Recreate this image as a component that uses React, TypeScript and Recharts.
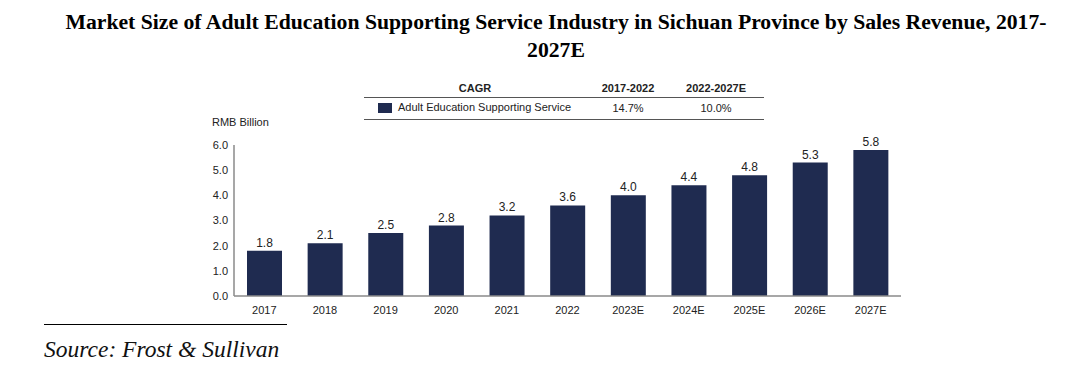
import React from "react"
import { BarChart, Bar, XAxis, YAxis, LabelList } from "recharts"

const years = ["2017", "2018", "2019", "2020", "2021", "2022", "2023E", "2024E", "2025E", "2026E", "2027E"]
const revenue = [1.8, 2.1, 2.5, 2.8, 3.2, 3.6, 4.0, 4.4, 4.8, 5.3, 5.8]
const yTicks = [0, 1, 2, 3, 4, 5, 6]
const cagrPeriods = ["2017-2022", "2022-2027E"]
const cagrValues = ["14.7%", "10.0%"]
const seriesName = "Adult Education Supporting Service"

const data = years.map((year, i) => ({ year, value: revenue[i] }))

const barColor = "#1f2b50"
const sans = "'Liberation Sans', Arial, sans-serif"
const serif = "'Liberation Serif', 'Times New Roman', serif"

const centered = (left: number, top = 0): React.CSSProperties => ({
  position: "absolute",
  left,
  top,
  width: 0,
  display: "flex",
  justifyContent: "center",
  whiteSpace: "nowrap",
})

export default function App() {
  return (
    <div style={{ position: "fixed", left: 0, top: 0, width: 1080, height: 366, background: "#fff", overflow: "hidden" }}>
      <div
        style={{
          position: "absolute",
          left: 32,
          top: 8,
          width: 1048,
          textAlign: "center",
          fontFamily: serif,
          fontWeight: "bold",
          fontSize: 21.7,
          lineHeight: "28px",
          color: "#000",
          whiteSpace: "nowrap",
        }}
      >
        Market Size of Adult Education Supporting Service Industry in Sichuan Province by Sales Revenue, 2017-
        <br />
        2027E
      </div>

      {/* CAGR table */}
      <div style={{ position: "absolute", left: 364, top: 82, width: 400, fontFamily: sans, fontSize: 11, color: "#222" }}>
        <div style={{ position: "relative", height: 15, borderBottom: "1.5px solid #555", fontWeight: "bold" }}>
          <span style={centered(111)}>CAGR</span>
          <span style={centered(264)}>{cagrPeriods[0]}</span>
          <span style={centered(352)}>{cagrPeriods[1]}</span>
        </div>
        <div style={{ position: "relative", height: 21, borderBottom: "1.5px solid #555" }}>
          <span style={{ position: "absolute", left: 14, top: 5, width: 14, height: 10, background: barColor }} />
          <span style={{ position: "absolute", left: 34, top: 3, whiteSpace: "nowrap" }}>{seriesName}</span>
          <span style={centered(264, 4)}>{cagrValues[0]}</span>
          <span style={centered(352, 4)}>{cagrValues[1]}</span>
        </div>
      </div>

      <div style={{ position: "absolute", left: 212, top: 116, fontFamily: sans, fontSize: 11, color: "#222" }}>RMB Billion</div>

      <div style={{ position: "absolute", left: 0, top: 0 }}>
        <BarChart width={1080} height={366} data={data} margin={{ top: 145, right: 179, bottom: 40, left: 198 }} barCategoryGap={13}>
          <YAxis
            width={36}
            domain={[0, 6]}
            ticks={yTicks}
            tickFormatter={(v: number) => v.toFixed(1)}
            tickLine={false}
            tickSize={0}
            tickMargin={6}
            axisLine={{ stroke: "#8a8a8a", strokeWidth: 1.5 }}
            tick={{ fontSize: 11, fill: "#222", fontFamily: sans }}
            interval={0}
          />
          <XAxis
            dataKey="year"
            height={30}
            tickLine={false}
            tickSize={0}
            tickMargin={10}
            axisLine={{ stroke: "#8a8a8a", strokeWidth: 1.5 }}
            tick={{ fontSize: 11, fill: "#222", fontFamily: sans }}
            interval={0}
          />
          <Bar dataKey="value" fill={barColor} isAnimationActive={false}>
            <LabelList
              dataKey="value"
              position="top"
              offset={4}
              formatter={(v: number) => v.toFixed(1)}
              style={{ fontSize: 12, fill: "#222", fontFamily: sans }}
            />
          </Bar>
        </BarChart>
      </div>

      <div style={{ position: "absolute", left: 44, top: 324, width: 243, height: 0, borderTop: "1.5px solid #000" }} />
      <div style={{ position: "absolute", left: 44, top: 336, fontFamily: serif, fontStyle: "italic", fontSize: 23.5, color: "#111" }}>
        Source: Frost &amp; Sullivan
      </div>
    </div>
  )
}
